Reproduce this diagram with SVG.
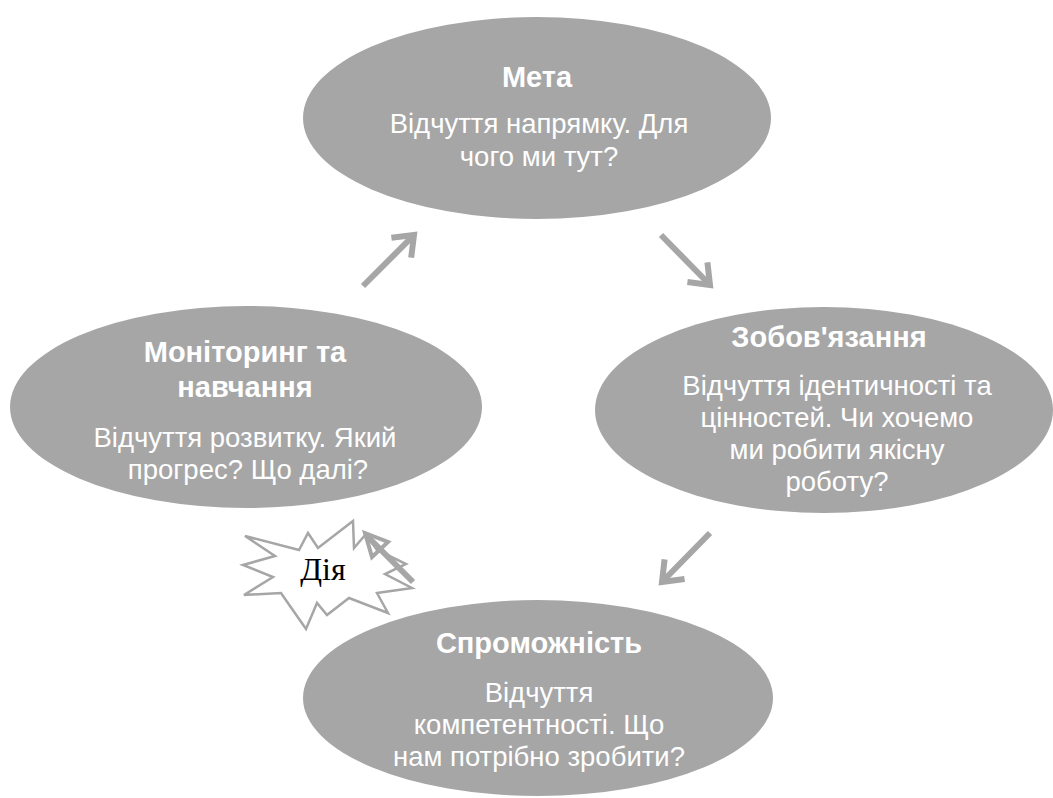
<svg xmlns="http://www.w3.org/2000/svg" width="1053" height="798" viewBox="0 0 1053 798">
  <defs>
    <style>
      .node-shape { fill: #a6a6a6; }
      .title { font-family: "Liberation Sans", Arial, sans-serif; font-weight: bold; font-size: 29px; fill: #ffffff; text-anchor: middle; }
      .body { font-family: "Liberation Sans", Arial, sans-serif; font-size: 27.5px; fill: #ffffff; text-anchor: middle; }
      .link { fill: none; stroke: #a6a6a6; stroke-width: 6; stroke-linecap: butt; }
      .burst { fill: #ffffff; stroke: #a6a6a6; stroke-width: 2.5; stroke-linejoin: miter; }
      .burst-label { font-family: "Liberation Serif", "DejaVu Serif", serif; font-size: 32px; fill: #000000; text-anchor: middle; }
    </style>
    <!-- open V arrowhead shared by the cycle connectors -->
    <marker id="vhead" viewBox="-4 -20 34 40" markerUnits="userSpaceOnUse" markerWidth="34" markerHeight="40" refX="21" refY="0" orient="auto">
      <path d="M3,-14 L21,0 L3,14" fill="none" stroke="#a6a6a6" stroke-width="6" stroke-linejoin="miter"/>
    </marker>
  </defs>

  <rect width="1053" height="798" fill="#ffffff"/>

  <!-- Goal -->
  <g id="node-meta">
    <ellipse class="node-shape" cx="537" cy="118" rx="234" ry="101"/>
    <text class="title" x="537" y="87">Мета</text>
    <text class="body" x="539" y="133">Відчуття напрямку. Для</text>
    <text class="body" x="539" y="166">чого ми тут?</text>
  </g>

  <!-- Commitment -->
  <g id="node-commitment">
    <ellipse class="node-shape" cx="824" cy="410" rx="229" ry="103"/>
    <text class="title" x="829" y="347">Зобов'язання</text>
    <text class="body" x="837" y="395">Відчуття ідентичності та</text>
    <text class="body" x="837" y="427">цінностей. Чи хочемо</text>
    <text class="body" x="837" y="459">ми робити якісну</text>
    <text class="body" x="837" y="491">роботу?</text>
  </g>

  <!-- Capability -->
  <g id="node-capability">
    <ellipse class="node-shape" cx="538" cy="698" rx="235" ry="98"/>
    <text class="title" x="539" y="653">Спроможність</text>
    <text class="body" x="539" y="702">Відчуття</text>
    <text class="body" x="539" y="734">компетентності. Що</text>
    <text class="body" x="539" y="766">нам потрібно зробити?</text>
  </g>

  <!-- Monitoring and learning -->
  <g id="node-monitoring">
    <ellipse class="node-shape" cx="246" cy="407" rx="236" ry="101"/>
    <text class="title" x="245" y="362">Моніторинг та</text>
    <text class="title" x="245" y="397">навчання</text>
    <text class="body" x="245" y="447">Відчуття розвитку. Який</text>
    <text class="body" x="248" y="479">прогрес? Що далі?</text>
  </g>

  <!-- Action burst -->
  <g id="node-action">
    <polygon class="burst" points="245,536 299,550 308,533 318,548 353,521 354,548 366,534 377,550 406,564 385,574 412,588 377,593 388,613 349,598 327,615 317,603 306,629 290,606 281,593 244,595 273,577 243,565 275,556"/>
    <text class="burst-label" x="323" y="580">Дія</text>
  </g>

  <!-- Cycle connectors -->
  <g id="connectors">
    <line class="link" x1="363" y1="286" x2="414" y2="235" marker-end="url(#vhead)"/>
    <line class="link" x1="661" y1="235" x2="710" y2="285" marker-end="url(#vhead)"/>
    <line class="link" x1="710" y1="533" x2="662" y2="582" marker-end="url(#vhead)"/>
    <g id="action-link">
      <line class="link" x1="413" y1="582" x2="368" y2="537"/>
      <polygon points="365,533 388,542 372,557" fill="none" stroke="#a6a6a6" stroke-width="4" stroke-linejoin="miter"/>
    </g>
  </g>
</svg>
